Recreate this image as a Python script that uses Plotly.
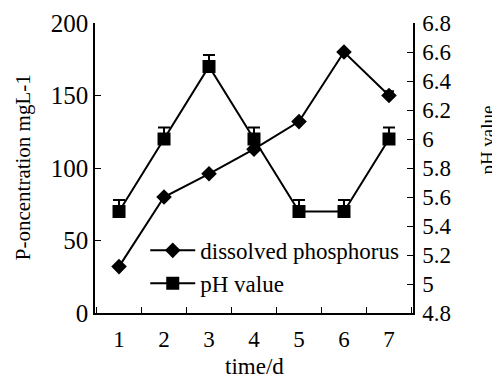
import plotly.graph_objects as go

days = ["1", "2", "3", "4", "5", "6", "7"]
phosphorus = [32, 80, 96, 113, 132, 180, 150]
phosphorus_err = [0, 0, 0, 0, 0, 0, 3]
ph = [5.5, 6.0, 6.5, 6.0, 5.5, 5.5, 6.0]
ph_err = [0.08, 0.08, 0.08, 0.08, 0.08, 0.08, 0.08]
left_ticks = [0, 50, 100, 150, 200]
right_ticks = [4.8, 5.0, 5.2, 5.4, 5.6, 5.8, 6.0, 6.2, 6.4, 6.6, 6.8]
right_labels = ["4.8", "5", "5.2", "5.4", "5.6", "5.8", "6", "6.2", "6.4", "6.6", "6.8"]

FONT = "Liberation Serif"

fig = go.Figure()
fig.add_trace(go.Scatter(
    x=days, y=phosphorus, name="dissolved phosphorus", mode="lines+markers",
    line=dict(color="black", width=2),
    marker=dict(symbol="diamond", size=12, color="black"),
    error_y=dict(type="data", array=phosphorus_err, arrayminus=[0]*7,
                 color="black", thickness=2, width=5),
    yaxis="y",
))
fig.add_trace(go.Scatter(
    x=days, y=ph, name="pH value", mode="lines+markers",
    line=dict(color="black", width=2),
    marker=dict(symbol="square", size=13, color="black"),
    error_y=dict(type="data", array=ph_err, arrayminus=[0]*7,
                 color="black", thickness=2, width=6),
    yaxis="y2",
))

# page has an 8px body margin, so the figure is sized and offset to compensate
fig.update_layout(
    width=492, height=371,
    margin=dict(l=87, r=87, t=15, b=66, autoexpand=False),
    paper_bgcolor="white", plot_bgcolor="white",
    font=dict(family=FONT, color="black"),
    showlegend=True,
    legend=dict(x=0.158, y=0.29, xanchor="left", yanchor="top",
                bgcolor="rgba(0,0,0,0)", font=dict(size=23, family=FONT, color="black"),
                tracegroupgap=0, itemwidth=45),
    xaxis=dict(type="category", showline=True, linecolor="black", linewidth=1.5,
               ticks="inside", ticklen=6, tickcolor="black", tickson="boundaries",
               tickfont=dict(size=23, family=FONT, color="black"), showgrid=False,
               zeroline=False, automargin=False, ticklabelstandoff=5),
    yaxis=dict(range=[0, 200], tickvals=left_ticks, showline=True, linecolor="black",
               linewidth=1.5, ticks="inside", ticklen=6, tickcolor="black",
               tickfont=dict(size=25, family=FONT, color="black"), showgrid=False,
               zeroline=False, automargin=False),
    yaxis2=dict(range=[4.8, 6.8], tickvals=right_ticks, ticktext=right_labels,
                overlaying="y", side="right", showline=True, linecolor="black",
                linewidth=1.5, ticks="inside", ticklen=6, tickcolor="black",
                tickfont=dict(size=23, family=FONT, color="black"), showgrid=False,
                zeroline=False, automargin=False, ticklabelstandoff=3),
    annotations=[
        dict(text="P-oncentration mgL-1", xref="paper", yref="paper",
             x=-0.226, y=0.503, xanchor="center", yanchor="middle",
             textangle=-90, showarrow=False, font=dict(size=21, family=FONT, color="black")),
        dict(text="pH value", xref="paper", yref="paper",
             x=1.235, y=0.597, xanchor="center", yanchor="middle",
             textangle=-90, showarrow=False, font=dict(size=19, family=FONT, color="black")),
        dict(text="time/d", xref="paper", yref="paper",
             x=0.5, y=-0.185, xanchor="center", yanchor="middle",
             showarrow=False, font=dict(size=23, family=FONT, color="black")),
    ],
)

fig.write_html("out.html")
